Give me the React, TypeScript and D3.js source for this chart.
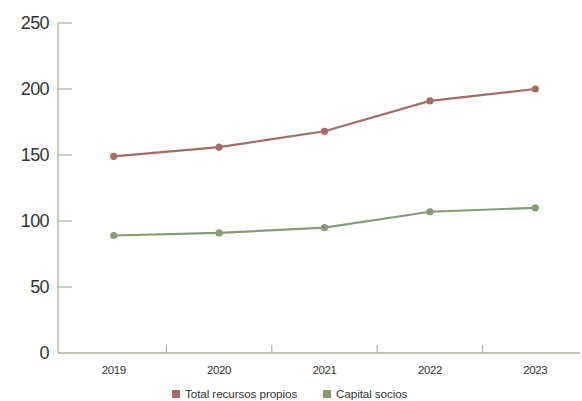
import React from "react";
import * as d3 from "d3";

const years = ["2019", "2020", "2021", "2022", "2023"];
const totalRecursos = [149, 156, 168, 191, 200];
const capitalSocios = [89, 91, 95, 107, 110];
const yTicks = [0, 50, 100, 150, 200, 250];
const seriesNames = ["Total recursos propios", "Capital socios"];
const seriesColors = ["#a86b64", "#8a9a78"];

const W = 582;
const H = 401;
const axisX = 58;
const axisY = 353;
const topY = 23;
const axisColor = "#a9b39d";
const font = "'Liberation Sans', Arial, Helvetica, sans-serif";

export default function App() {
  const y = d3.scaleLinear().domain([0, 250]).range([axisY, topY]);
  const x = d3.scaleBand().domain(years).range([61, 588]);
  const cx = (d: string) => (x(d) as number) + x.bandwidth() / 2;
  const line = d3
    .line<number>()
    .x((_, i) => cx(years[i]))
    .y((v) => y(v));
  const series = [totalRecursos, capitalSocios];

  return (
    <svg
      width={W}
      height={H}
      style={{ position: "absolute", left: 0, top: 0, background: "#fff" }}
    >
      {/* y axis */}
      <line x1={axisX} x2={axisX} y1={topY} y2={axisY} stroke={axisColor} strokeWidth={1.3} />
      {yTicks.map((t) => (
        <g key={t}>
          {t > 0 && (
            <line x1={axisX} x2={72} y1={y(t)} y2={y(t)} stroke={axisColor} strokeWidth={1.2} />
          )}
          <text
            x={49}
            y={y(t)}
            dy="0.36em"
            textAnchor="end"
            fontFamily={font}
            fontSize={18}
            fill="#333"
            letterSpacing={-0.6}
          >
            {t}
          </text>
        </g>
      ))}
      {/* x axis */}
      <line x1={axisX} x2={580} y1={axisY} y2={axisY} stroke={axisColor} strokeWidth={1.3} />
      {years.slice(1).map((yr) => (
        <line
          key={yr}
          x1={x(yr) as number}
          x2={x(yr) as number}
          y1={axisY}
          y2={axisY - 8}
          stroke={axisColor}
          strokeWidth={1.2}
        />
      ))}
      {years.map((yr) => (
        <text
          key={yr}
          x={cx(yr)}
          y={374}
          textAnchor="middle"
          fontFamily={font}
          fontSize={11.5}
          fill="#333"
          letterSpacing={-0.4}
        >
          {yr}
        </text>
      ))}
      {/* lines */}
      {series.map((s, si) => (
        <g key={si}>
          <path d={line(s) || ""} fill="none" stroke={seriesColors[si]} strokeWidth={2.2} />
          {s.map((v, i) => (
            <circle key={i} cx={cx(years[i])} cy={y(v)} r={3.6} fill={seriesColors[si]} />
          ))}
        </g>
      ))}
      {/* legend */}
      <rect x={172} y={390} width={8} height={8} fill={seriesColors[0]} />
      <text x={185} y={398} fontFamily={font} fontSize={11.7} fill="#333" letterSpacing={-0.1}>
        {seriesNames[0]}
      </text>
      <rect x={323} y={390} width={8} height={8} fill={seriesColors[1]} />
      <text x={336} y={398} fontFamily={font} fontSize={11.7} fill="#333" letterSpacing={-0.1}>
        {seriesNames[1]}
      </text>
    </svg>
  );
}
